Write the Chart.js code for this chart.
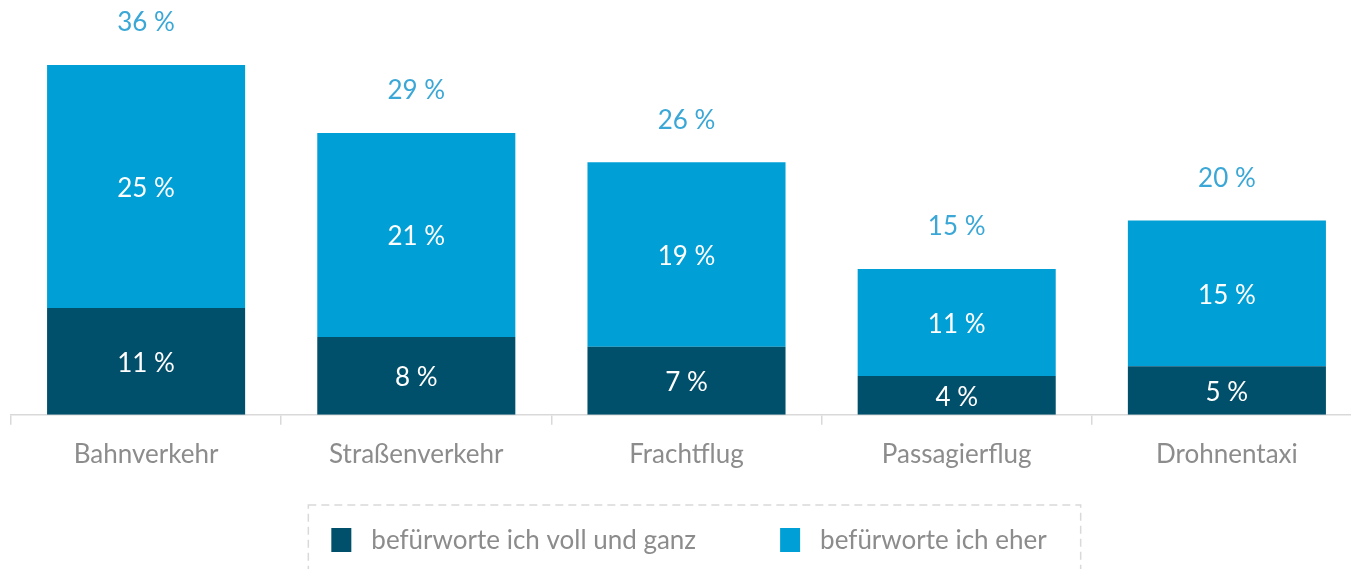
<!DOCTYPE html>
<html>
<head>
<meta charset="utf-8">
<script src="https://cdn.jsdelivr.net/npm/chart.js@4"></script>
<style>
  html, body { margin: 0; padding: 0; background: #fff; overflow: hidden; }
  #wrap { width: 1362px; height: 569px; }
</style>
</head>
<body>
<div id="wrap"><canvas id="chart_befuerwortung"></canvas></div>
<script>
// --- daten ---
const kategorien = ['Bahnverkehr', 'Straßenverkehr', 'Frachtflug', 'Passagierflug', 'Drohnentaxi'];
const vollUndGanz = [11, 8, 7, 4, 5];
const eher = [25, 21, 19, 11, 15];
const gesamt = [36, 29, 26, 15, 20];

const DUNKEL = '#004f6b';
const HELL = '#00a0d6';
const GRAU = '#8c8c8c';
const SCHRIFT = 'Lato, "Open Sans", sans-serif';
const GROESSE = 26;

// werte in die balken + summen drueber + eigene legende
const labelPlugin = {
  id: 'labelPlugin',
  afterDatasetsDraw(chart) {
    const ctx = chart.ctx;
    ctx.save();
    ctx.textAlign = 'center';
    ctx.textBaseline = 'middle';
    ctx.font = GROESSE + 'px ' + SCHRIFT;
    chart.data.datasets.forEach((ds, i) => {
      const meta = chart.getDatasetMeta(i);
      meta.data.forEach((el, j) => {
        ctx.fillStyle = '#ffffff';
        ctx.fillText(ds.data[j] + ' %', el.x, (el.y + el.base) / 2 + 2);
      });
    });
    const top = chart.getDatasetMeta(1);
    top.data.forEach((el, j) => {
      ctx.fillStyle = '#3aa7d6';
      ctx.fillText(gesamt[j] + ' %', el.x, el.y - 42);
    });
    ctx.restore();
  },
  afterDraw(chart) {
    const ctx = chart.ctx;
    ctx.save();
    ctx.font = GROESSE + 'px ' + SCHRIFT;
    ctx.textBaseline = 'middle';
    ctx.textAlign = 'left';
    const ds = chart.data.datasets;
    const box = 20, gap = 20, abstand = 84;
    const breiten = ds.map(d => box + gap + ctx.measureText(d.label).width);
    const gesamtBreite = breiten.reduce((a, b) => a + b, 0) + abstand * (ds.length - 1);
    let x = chart.width / 2 + 8 - gesamtBreite / 2;
    const yMitte = 540;
    const start = x;
    ds.forEach((d, i) => {
      ctx.fillStyle = d.backgroundColor;
      ctx.fillRect(x, yMitte - 12, box, 24);
      ctx.fillStyle = GRAU;
      ctx.fillText(d.label, x + box + gap, yMitte + 1);
      x += breiten[i] + abstand;
    });
    const ende = x - abstand;
    // gestrichelter rahmen
    ctx.strokeStyle = '#d9d9d9';
    ctx.lineWidth = 1.5;
    ctx.setLineDash([8, 5]);
    ctx.strokeRect(start - 23, 505, (ende + 34) - (start - 23), 120);
    ctx.restore();
  }
};

const ctx_b = document.getElementById('chart_befuerwortung').getContext('2d');
const chart_befuerwortung = new Chart(ctx_b, {
  type: 'bar',
  data: {
    labels: kategorien,
    datasets: [{
      label: 'befürworte ich voll und ganz',
      data: vollUndGanz,
      backgroundColor: DUNKEL,
      categoryPercentage: 0.733,
      barPercentage: 1
    }, {
      label: 'befürworte ich eher',
      data: eher,
      backgroundColor: HELL,
      categoryPercentage: 0.733,
      barPercentage: 1
    }]
  },
  options: {
    responsive: true,
    maintainAspectRatio: false,
    animation: false,
    layout: { padding: { left: 11, right: 0, top: 0, bottom: 85 } },
    plugins: {
      tooltip: { enabled: false },
      legend: { display: false }
    },
    scales: {
      x: {
        stacked: true,
        grid: {
          display: true,
          offset: true,
          drawOnChartArea: false,
          drawTicks: true,
          tickLength: 10,
          color: '#d9d9d9',
          lineWidth: 1.5
        },
        border: { display: true, color: '#d9d9d9', width: 1.5 },
        ticks: {
          color: GRAU,
          padding: 14,
          font: { family: SCHRIFT, size: GROESSE }
        }
      },
      y: {
        stacked: true,
        display: false,
        min: 0,
        max: 42.7
      }
    }
  },
  plugins: [labelPlugin]
});
</script>
</body>
</html>
